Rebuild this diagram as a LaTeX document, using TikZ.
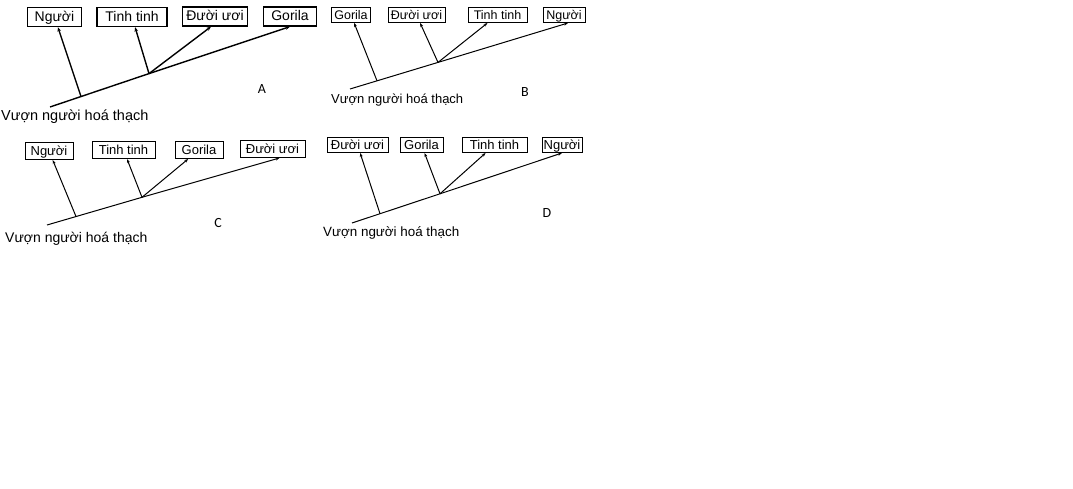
\documentclass[tikz,border=0pt]{standalone}
\usepackage{fontspec}
\setmainfont{Liberation Sans}
\newfontfamily\letterfont{Carlito}
\usetikzlibrary{arrows.meta}
\tikzset{
  taxonA/.style={draw, line width=1.3pt, inner sep=0pt, minimum height=19pt, text height=11pt, text depth=2pt, font=\fontsize{14}{14}\selectfont},
  taxonB/.style={draw, line width=1pt, inner sep=0pt, minimum height=15pt, text height=10pt, text depth=1.2pt, font=\fontsize{12.5}{12.5}\selectfont},
  branchA/.style={line width=1.4pt, -{Stealth[length=4.5pt,width=3.5pt]}},
  branchB/.style={line width=1pt, -{Stealth[length=4pt,width=3pt]}},
  trunkA/.style={line width=1.4pt},
  trunkB/.style={line width=1pt},
  rootlabel/.style={anchor=west, inner sep=0pt},
  panelletter/.style={inner sep=0pt, font=\letterfont\fontsize{14}{14}\selectfont}
}
\begin{document}
\begin{tikzpicture}[x=1pt,y=-1pt]
\useasboundingbox[fill=white] (0,0) rectangle (1073,489);

% ---------- Panel A ----------
\node[taxonA, minimum width=54pt] (nguoiA) at (54.5,17) {Người};
\node[taxonA, minimum width=70pt] (tinhA) at (132,17) {Tinh tinh};
\node[taxonA, minimum width=65pt] (duoiA) at (215,16.5) {Đười ươi};
\node[taxonA, minimum width=53pt] (gorA) at (290,16.5) {Gorila};
\coordinate (rootA) at (50,107);
\coordinate (bA1) at (81,96.5);
\coordinate (bA2) at (149,73.6);
\draw[trunkA] (rootA) -- (bA2);
\draw[branchA] (bA2) -- (gorA.south);
\draw[branchA] (bA1) -- (nguoiA);
\draw[branchA] (bA2) -- (tinhA);
\draw[branchA] (bA2) -- ([xshift=-4pt]duoiA.south);
\node[rootlabel, font=\fontsize{14.5}{14.5}\selectfont] (labA) at (1,117) {Vượn người hoá thạch};
\node[panelletter] (letA) at (262,89) {A};

% ---------- Panel B ----------
\node[taxonB, minimum width=39pt] (gorB) at (351,15) {Gorila};
\node[taxonB, minimum width=57pt] (duoiB) at (416.5,15) {Đười ươi};
\node[taxonB, minimum width=59pt] (tinhB) at (497.5,15) {Tinh tinh};
\node[taxonB, minimum width=42pt] (nguoiB) at (564,15) {Người};
\coordinate (rootB) at (350,89);
\coordinate (bB1) at (377,80.8);
\coordinate (bB2) at (438,62.4);
\draw[trunkB] (rootB) -- (bB2);
\draw[branchB] (bB2) -- ([xshift=4pt]nguoiB.south);
\draw[branchB] (bB1) -- (gorB);
\draw[branchB] (bB2) -- (duoiB);
\draw[branchB] (bB2) -- (tinhB);
\node[rootlabel, font=\fontsize{13}{13}\selectfont] (labB) at (331,100) {Vượn người hoá thạch};
\node[panelletter] (letB) at (525,92) {B};

% ---------- Panel C ----------
\node[taxonB, minimum width=48pt, minimum height=17pt, font=\fontsize{13}{13}\selectfont] (nguoiC) at (49,151) {Người};
\node[taxonB, minimum width=63pt, minimum height=17pt, font=\fontsize{13}{13}\selectfont] (tinhC) at (123.5,150) {Tinh tinh};
\node[taxonB, minimum width=48pt, minimum height=17pt, font=\fontsize{13}{13}\selectfont] (gorC) at (199,150) {Gorila};
\node[taxonB, minimum width=65pt, minimum height=17pt, font=\fontsize{13}{13}\selectfont] (duoiC) at (272.5,149) {Đười ươi};
\coordinate (rootC) at (47,225);
\coordinate (bC1) at (76,216.5);
\coordinate (bC2) at (142,197.3);
\draw[trunkB] (rootC) -- (bC2);
\draw[branchB] (bC2) -- ([xshift=7pt]duoiC.south);
\draw[branchB] (bC1) -- (nguoiC);
\draw[branchB] (bC2) -- (tinhC);
\draw[branchB] (bC2) -- (gorC);
\node[rootlabel, font=\fontsize{14}{14}\selectfont] (labC) at (5,239) {Vượn người hoá thạch};
\node[panelletter] (letC) at (218,223) {C};

% ---------- Panel D ----------
\node[taxonB, minimum width=61pt, font=\fontsize{13}{13}\selectfont] (duoiD) at (357.5,145) {Đười ươi};
\node[taxonB, minimum width=43pt, font=\fontsize{13}{13}\selectfont] (gorD) at (421.5,145) {Gorila};
\node[taxonB, minimum width=65pt, font=\fontsize{13}{13}\selectfont] (tinhD) at (494.5,145) {Tinh tinh};
\node[taxonB, minimum width=40pt, font=\fontsize{13}{13}\selectfont] (nguoiD) at (562,145) {Người};
\coordinate (rootD) at (352,223);
\coordinate (bD1) at (380,213.7);
\coordinate (bD2) at (440,193.8);
\draw[trunkB] (rootD) -- (bD2);
\draw[branchB] (bD2) -- (nguoiD.south);
\draw[branchB] (bD1) -- (duoiD);
\draw[branchB] (bD2) -- (gorD);
\draw[branchB] (bD2) -- (tinhD);
\node[rootlabel, font=\fontsize{13.4}{13.4}\selectfont] (labD) at (323,233) {Vượn người hoá thạch};
\node[panelletter] (letD) at (547,213) {D};
\end{tikzpicture}
\end{document}
